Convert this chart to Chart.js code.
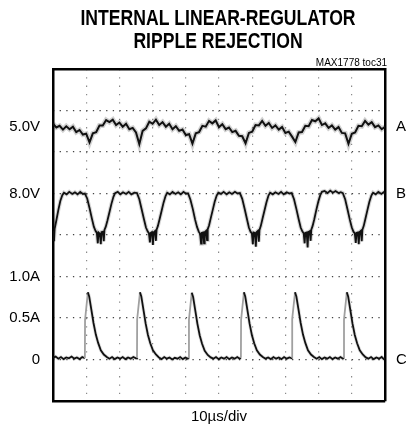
<!DOCTYPE html>
<html>
<head>
<meta charset="utf-8">
<title>Internal linear-regulator ripple rejection</title>
<script src="https://cdn.jsdelivr.net/npm/chart.js@4.4.1/dist/chart.umd.min.js"></script>
<style>
  html, body { margin: 0; padding: 0; background: #fff; }
  #wrap { width: 406px; height: 436px; position: relative; }
</style>
</head>
<body>
<div id="wrap"><canvas id="scope"></canvas></div>
<script>
const titleLines = ['INTERNAL LINEAR-REGULATOR', 'RIPPLE REJECTION'];
const tocLabel = 'MAX1778 toc31';
const timeLabel = '10µs/div';

// scope screen: 0..100us across (10us/div), 0..8 divisions high
const leftTickPos = [6.6, 5.0, 3.0, 2.0, 1.0];
const leftTickText = ['5.0V', '8.0V', '1.0A', '0.5A', '0'];
const traceNames = ['A', 'B', 'C'];
const traceNamePos = [6.6, 5.0, 1.0];

// trace A - regulator output, one sample per us
const aTime = [
  0, 1, 2, 3, 4, 5, 6, 7, 8, 9, 10, 11, 12, 13, 14, 15, 16, 17, 18, 19,
  20, 21, 22, 23, 24, 25, 26, 27, 28, 29, 30, 31, 32, 33, 34, 35, 36, 37, 38, 39,
  40, 41, 42, 43, 44, 45, 46, 47, 48, 49, 50, 51, 52, 53, 54, 55, 56, 57, 58, 59,
  60, 61, 62, 63, 64, 65, 66, 67, 68, 69, 70, 71, 72, 73, 74, 75, 76, 77, 78, 79,
  80, 81, 82, 83, 84, 85, 86, 87, 88, 89, 90, 91, 92, 93, 94, 95, 96, 97, 98, 99, 100
];
const aDiv = [
  6.68, 6.59, 6.63, 6.54, 6.62, 6.55, 6.61, 6.48, 6.53, 6.42, 6.44, 6.23, 6.45, 6.48, 6.64, 6.64, 6.77, 6.72, 6.78, 6.65,
  6.71, 6.61, 6.68, 6.55, 6.58, 6.47, 6.19, 6.51, 6.57, 6.73, 6.68, 6.78, 6.65, 6.72, 6.61, 6.68, 6.55, 6.62, 6.51, 6.54,
  6.41, 6.43, 6.20, 6.45, 6.48, 6.63, 6.61, 6.75, 6.69, 6.76, 6.60, 6.67, 6.55, 6.59, 6.48, 6.51, 6.39, 6.38, 6.21, 6.46,
  6.49, 6.65, 6.64, 6.75, 6.63, 6.70, 6.58, 6.64, 6.54, 6.60, 6.46, 6.49, 6.37, 6.24, 6.47, 6.48, 6.63, 6.62, 6.77, 6.74,
  6.81, 6.65, 6.69, 6.58, 6.64, 6.54, 6.60, 6.46, 6.45, 6.20, 6.44, 6.47, 6.63, 6.62, 6.75, 6.66, 6.72, 6.60, 6.64, 6.55, 6.61
];

// trace B - input supply
const bTime = [
  0, 0.3, 0.5, 1.0, 1.6, 2.2, 2.8, 3.3, 4.1, 4.9, 5.8, 6.6, 7.4, 8.2, 9.0,
  9.6, 10.3, 11.0, 11.7, 12.3, 12.8, 13.2, 13.5, 13.7, 14.1, 14.4, 14.6, 15.0, 15.3, 15.5, 15.9, 16.4, 17.0, 17.6, 18.2, 18.7,
  19.5, 20.3, 21.1, 22.0, 22.8, 23.6, 24.5,
  25.3, 26.0, 26.7, 27.4, 28.0, 28.5, 28.9, 29.2, 29.4, 29.8, 30.1, 30.3, 30.7, 31.0, 31.2, 31.6, 32.1, 32.7, 33.3, 33.9, 34.4,
  35.2, 36.0, 36.9, 37.7, 38.5, 39.3, 40.0,
  40.7, 41.4, 42.1, 42.8, 43.4, 43.9, 44.3, 44.6, 44.8, 45.2, 45.5, 45.7, 46.1, 46.4, 46.6, 47.0, 47.5, 48.1, 48.7, 49.3, 49.8,
  50.6, 51.4, 52.3, 53.1, 53.9, 54.8, 55.6,
  56.3, 57.0, 57.7, 58.4, 59.0, 59.5, 59.9, 60.2, 60.4, 60.8, 61.1, 61.3, 61.7, 62.0, 62.2, 62.6, 63.1, 63.7, 64.3, 64.9, 65.4,
  66.2, 67.0, 67.9, 68.7, 69.5, 70.4, 71.2,
  71.9, 72.6, 73.3, 74.0, 74.6, 75.1, 75.5, 75.8, 76.0, 76.4, 76.7, 76.9, 77.3, 77.6, 77.8, 78.2, 78.7, 79.3, 79.9, 80.5, 81.0,
  81.8, 82.7, 83.5, 84.3, 85.1, 86.0, 86.7,
  87.3, 88.0, 88.7, 89.4, 90.0, 90.5, 90.9, 91.2, 91.4, 91.8, 92.1, 92.3, 92.7, 93.0, 93.2, 93.6, 94.1, 94.7, 95.3, 95.9, 96.4,
  97.2, 98.0, 98.9, 99.6, 100
];
const bDiv = [
  4.10, 3.85, 4.15, 4.35, 4.60, 4.82, 4.96, 5.02, 4.98, 5.04, 4.99, 5.03, 4.98, 5.04, 4.99,
  5.00, 4.88, 4.65, 4.40, 4.20, 4.10, 4.05, 3.80, 4.06, 4.03, 3.78, 4.07, 4.08, 3.85, 4.12, 4.20, 4.35, 4.55, 4.75, 4.92, 5.01,
  5.04, 4.98, 5.03, 4.99, 5.04, 4.98, 5.02,
  5.01, 4.86, 4.62, 4.38, 4.18, 4.09, 4.04, 3.82, 4.05, 4.07, 3.76, 4.06, 4.09, 3.86, 4.13, 4.22, 4.38, 4.58, 4.78, 4.94, 5.02,
  4.98, 5.04, 4.99, 5.03, 4.98, 5.04, 5.00,
  5.00, 4.85, 4.63, 4.37, 4.19, 4.08, 4.03, 3.79, 4.05, 4.06, 3.80, 4.07, 4.10, 3.88, 4.14, 4.23, 4.40, 4.60, 4.80, 4.95, 5.02,
  4.99, 5.04, 4.98, 5.03, 4.99, 5.04, 5.00,
  5.01, 4.87, 4.64, 4.39, 4.18, 4.08, 4.04, 3.78, 4.06, 4.05, 3.72, 4.07, 4.10, 3.84, 4.12, 4.22, 4.39, 4.59, 4.79, 4.95, 5.02,
  4.98, 5.03, 4.99, 5.04, 4.98, 5.03, 5.00,
  5.01, 4.86, 4.63, 4.38, 4.18, 4.09, 4.04, 3.80, 4.05, 4.06, 3.70, 4.07, 4.09, 3.86, 4.13, 4.22, 4.38, 4.60, 4.80, 4.96, 5.04,
  5.06, 5.01, 5.07, 5.02, 5.06, 5.01, 5.03,
  5.01, 4.86, 4.62, 4.37, 4.18, 4.08, 4.04, 3.81, 4.05, 4.06, 3.78, 4.07, 4.10, 3.85, 4.13, 4.22, 4.39, 4.60, 4.80, 4.95, 5.02,
  4.98, 5.04, 4.99, 5.03, 5.00
];

// trace C - load current pulses
const cTime = [
  0, 0.8, 1.6, 2.4, 3.2, 4.0, 4.8, 5.6, 6.4, 7.2, 8.0, 8.8, 9.6,
  9.65, 10.5, 10.9, 11.6, 12.2, 12.9, 13.6, 14.4, 15.3, 16.2, 17.0, 17.8, 18.6, 19.4, 20.2, 21.0, 21.8, 22.6, 23.4, 24.2, 25.0, 25.3,
  25.35, 26.2, 26.6, 27.3, 27.9, 28.6, 29.3, 30.1, 31.0, 31.9, 32.7, 33.5, 34.3, 35.1, 35.9, 36.7, 37.5, 38.3, 39.1, 39.9, 40.6, 40.9,
  40.95, 41.8, 42.2, 42.9, 43.5, 44.2, 44.9, 45.7, 46.6, 47.5, 48.3, 49.1, 49.9, 50.7, 51.5, 52.3, 53.1, 53.9, 54.7, 55.5, 56.2, 56.6,
  56.65, 57.5, 57.9, 58.6, 59.2, 59.9, 60.6, 61.4, 62.3, 63.2, 64.0, 64.8, 65.6, 66.4, 67.2, 68.0, 68.8, 69.6, 70.4, 71.2, 71.9, 72.0,
  72.05, 72.9, 73.3, 74.0, 74.6, 75.3, 76.0, 76.8, 77.7, 78.6, 79.4, 80.2, 81.0, 81.8, 82.6, 83.4, 84.2, 85.0, 85.8, 86.6, 87.3, 87.6,
  87.65, 88.5, 88.9, 89.6, 90.2, 90.9, 91.6, 92.4, 93.3, 94.2, 95.0, 95.8, 96.6, 97.4, 98.2, 99.0, 99.6, 100
];
const cDiv = [
  1.04, 1.07, 1.02, 1.06, 1.01, 1.05, 1.03, 1.07, 1.02, 1.05, 1.01, 1.06, 1.03,
  1.95, 2.62, 2.52, 2.18, 1.88, 1.60, 1.40, 1.22, 1.12, 1.06, 1.02, 1.06, 1.01, 1.05, 1.02, 1.06, 1.01, 1.05, 1.02, 1.06, 1.03, 1.04,
  1.97, 2.62, 2.52, 2.17, 1.87, 1.59, 1.39, 1.22, 1.12, 1.05, 1.01, 1.06, 1.02, 1.05, 1.00, 1.04, 1.02, 1.06, 1.01, 1.05, 1.02, 1.04,
  1.96, 2.61, 2.51, 2.16, 1.86, 1.58, 1.38, 1.21, 1.11, 1.05, 1.02, 1.06, 1.01, 1.05, 1.02, 1.06, 1.01, 1.05, 1.02, 1.06, 1.02, 1.04,
  1.95, 2.62, 2.52, 2.17, 1.87, 1.59, 1.39, 1.22, 1.12, 1.06, 1.02, 1.05, 1.01, 1.06, 1.02, 1.05, 1.01, 1.06, 1.02, 1.05, 1.03, 1.04,
  1.98, 2.62, 2.52, 2.18, 1.88, 1.60, 1.40, 1.22, 1.12, 1.06, 1.02, 1.06, 1.01, 1.05, 1.02, 1.06, 1.01, 1.05, 1.02, 1.06, 1.02, 1.04,
  1.96, 2.62, 2.52, 2.17, 1.87, 1.59, 1.39, 1.22, 1.12, 1.05, 1.02, 1.06, 1.01, 1.05, 1.02, 1.06, 1.01, 1.04
];

const toPoints = (xs, ys) => xs.map((x, i) => ({ x: x, y: ys[i] }));

const AREA = { left: 53, right: 385, top: 69, bottom: 401 };
const sansFont = '"Liberation Sans", Arial, sans-serif';

// titles and the toc tag are plain canvas text
const captions = {
  id: 'captions',
  afterDraw(chart) {
    const ctx = chart.ctx;
    ctx.save();
    ctx.fillStyle = '#000';
    ctx.textAlign = 'center';
    ctx.textBaseline = 'alphabetic';
    ctx.font = 'bold 22px ' + sansFont;
    [25, 48].forEach((y, i) => {
      ctx.save();
      ctx.translate(218, y);
      ctx.scale(0.8, 1);
      ctx.fillText(titleLines[i], 0, 0);
      ctx.restore();
    });
    ctx.textAlign = 'right';
    ctx.font = '10px ' + sansFont;
    ctx.fillText(tocLabel, 387, 66);
    ctx.restore();
  }
};

function trace(data, width, color, extra) {
  return Object.assign({
    data: data,
    borderColor: color,
    borderWidth: width,
    pointRadius: 0,
    tension: 0,
    fill: false
  }, extra || {});
}

const aPts = toPoints(aTime, aDiv);
const bPts = toPoints(bTime, bDiv);
const cPts = toPoints(cTime, cDiv);
const steepEdge = { borderColor: c => (c.p1.parsed.y - c.p0.parsed.y > 0.5 ? '#a0a0a0' : undefined) };

new Chart(document.getElementById('scope'), {
  type: 'line',
  data: {
    datasets: [
      trace(aPts, 2, '#111'),
      trace(bPts, 1.8, '#111'),
      trace(cPts, 1.8, '#111', { segment: steepEdge }),
      trace(aPts, 5, 'rgba(0,0,0,0.18)'),
      trace(bPts, 4, 'rgba(0,0,0,0.16)'),
      trace(cPts, 3.5, 'rgba(0,0,0,0.12)', { segment: { borderColor: c => (c.p1.parsed.y - c.p0.parsed.y > 0.5 ? 'rgba(0,0,0,0)' : undefined) } })
    ]
  },
  plugins: [captions],
  options: {
    responsive: true,
    maintainAspectRatio: false,
    animation: false,
    events: [],
    layout: { padding: { top: AREA.top, left: 0, right: 0, bottom: 0 } },
    plugins: { legend: { display: false }, tooltip: { enabled: false } },
    scales: {
      x: {
        type: 'linear', min: 0, max: 100,
        ticks: { display: false, stepSize: 10 },
        grid: { color: '#8a8a8a', lineWidth: 1.2, drawTicks: false },
        border: { display: true, color: '#000', width: 2.5, dash: [1.3, 7.0] },
        title: { display: true, text: timeLabel, color: '#000', font: { family: sansFont, size: 15 }, padding: { top: 0, bottom: 10 } },
        afterFit: s => { s.height = 436 - AREA.bottom; }
      },
      xTop: {
        type: 'linear', position: 'top', min: 0, max: 100,
        ticks: { display: false },
        grid: { display: false, drawTicks: false },
        border: { display: true, color: '#000', width: 2.5 },
        afterFit: s => { s.height = 0; }
      },
      y: {
        type: 'linear', position: 'left', min: 0, max: 8,
        afterBuildTicks: s => { s.ticks = leftTickPos.map(v => ({ value: v })); },
        ticks: {
          autoSkip: false, padding: 13, color: '#000',
          font: { family: sansFont, size: 15 },
          callback: (v, i) => leftTickText[i]
        },
        grid: { display: false, drawTicks: false },
        border: { display: true, color: '#000', width: 2.5 },
        afterFit: s => { s.width = AREA.left; }
      },
      yGrid: {
        type: 'linear', position: 'right', min: 0, max: 8, weight: 0,
        ticks: { display: false, stepSize: 1 },
        grid: { color: '#444', lineWidth: 1.3, drawTicks: false },
        border: { display: true, color: '#000', width: 2.5, dash: [1.3, 5.34] },
        afterFit: s => { s.width = 0; }
      },
      yNames: {
        type: 'linear', position: 'right', min: 0, max: 8, weight: 1,
        afterBuildTicks: s => { s.ticks = traceNamePos.map(v => ({ value: v })); },
        ticks: {
          autoSkip: false, padding: 11, color: '#000',
          font: { family: sansFont, size: 15 },
          callback: (v, i) => traceNames[i]
        },
        grid: { display: false, drawTicks: false },
        border: { display: false },
        afterFit: s => { s.width = 406 - AREA.right; }
      }
    }
  }
});
</script>
</body>
</html>
